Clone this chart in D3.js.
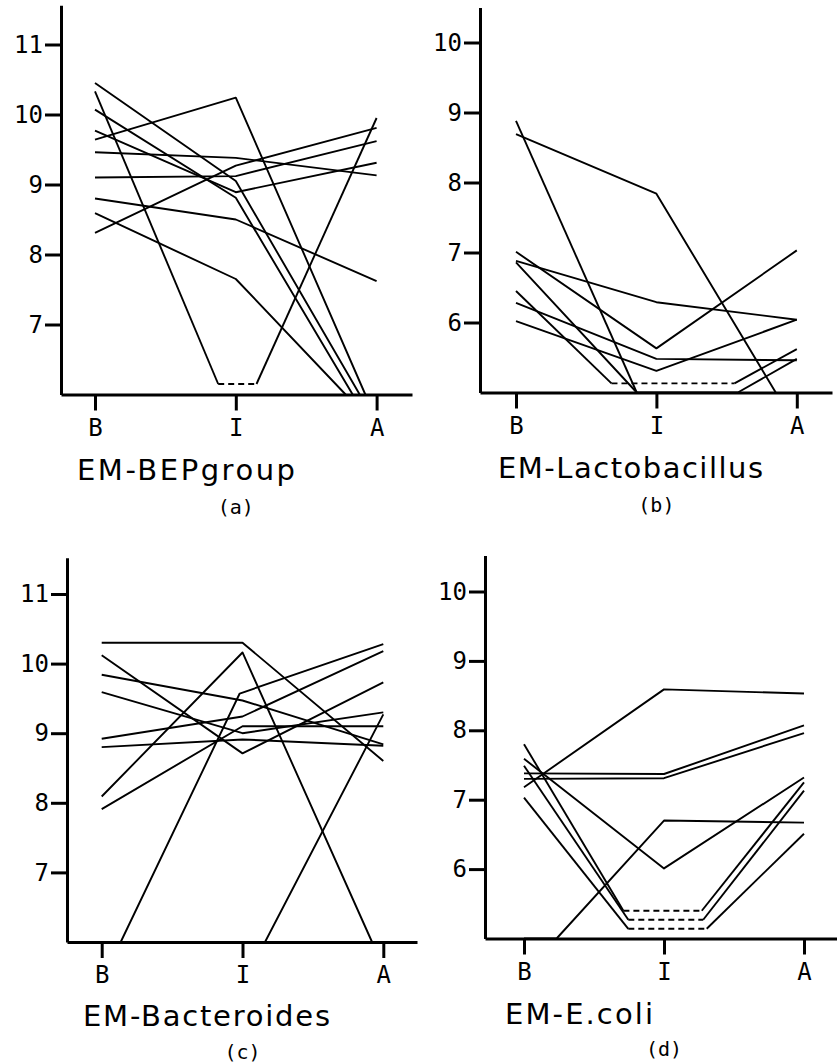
<!DOCTYPE html>
<html>
<head>
<meta charset="utf-8">
<script src="https://cdn.jsdelivr.net/npm/d3@7"></script>
<style>
  body { margin: 0; background: #fff; }
  svg { display: block; background: #fff; }
  .axis path, .axis line { stroke: #000; stroke-width: 3; }
  .axis text { font-family: 'DejaVu Sans Mono', monospace; font-size: 24px; fill: #000; }
  .title { font-family: 'DejaVu Sans', sans-serif; font-size: 29px; fill: #000; }
  .tag { font-family: 'DejaVu Sans Mono', monospace; font-size: 20px; fill: #000; }
</style>
</head>
<body>
<svg id="chart"></svg>
<script>
// stages on the x axis
const stages = ['B', 'I', 'A']
const titles = ['EM-BEPgroup', 'EM-Lactobacillus', 'EM-Bacteroides', 'EM-E.coli']
const tags = ['(a)', '(b)', '(c)', '(d)']

const ticksA = [7, 8, 9, 10, 11]
const ticksB = [6, 7, 8, 9, 10]
const ticksC = [7, 8, 9, 10, 11]
const ticksD = [6, 7, 8, 9, 10]

// each line: [stage, value] knots; a third 'd' marks a dashed segment (below detection)
const seriesA = [
    [[0, 10.45], [1, 9.05], [1.88, 6.0]],
    [[0, 10.33], [0.875, 6.15], [1.147, 6.15, 'd'], [2, 9.95]],
    [[0, 10.07], [1, 8.81], [1.83, 6.0]],
    [[0, 9.77], [1, 8.89], [2, 9.31]],
    [[0, 9.64], [1, 10.24], [1.92, 6.0]],
    [[0, 9.46], [1, 9.38], [2, 9.13]],
    [[0, 9.10], [1, 9.12], [2, 9.62]],
    [[0, 8.80], [1, 8.50], [2, 7.62]],
    [[0, 8.59], [1, 7.65], [1.78, 6.0]],
    [[0, 8.31], [1, 9.27], [2, 9.81]]
]

const seriesB = [
    [[0, 8.88], [0.86, 5.0]],
    [[0, 8.69], [1, 7.84], [1.85, 5.0]],
    [[0, 7.01], [1, 5.63], [2, 7.03]],
    [[0, 6.88], [1, 6.29], [2, 6.04]],
    [[0, 6.86], [0.86, 5.0], [1.58, 5.0], [2, 5.48]],
    [[0, 6.45], [0.68, 5.13], [1.556, 5.13, 'd'], [2, 5.62]],
    [[0, 6.28], [1, 5.48], [2, 5.46]],
    [[0, 6.02], [1, 5.31], [2, 6.04]]
]

const seriesC = [
    [[0, 10.30], [1, 10.30], [2, 8.60]],
    [[0, 10.12], [1, 8.71], [2, 9.73]],
    [[0, 9.84], [1, 9.47], [2, 8.84]],
    [[0, 9.59], [1, 9.00], [2, 9.30]],
    [[0, 8.92], [1, 9.24], [2, 10.18]],
    [[0, 8.80], [1, 8.91], [2, 8.82]],
    [[0, 8.09], [1, 10.16], [1.92, 6.0]],
    [[0, 7.91], [1, 9.10], [2, 9.10]],
    [[0, 6.0], [0.135, 6.0], [0.98, 9.57], [2, 10.28]],
    [[0, 6.0], [1.16, 6.0], [2, 9.27]]
]

const seriesD = [
    [[0, 7.18], [1, 8.59], [2, 8.53]],
    [[0, 7.38], [1, 7.37], [2, 8.07]],
    [[0, 7.30], [1, 7.31], [2, 7.96]],
    [[0, 7.59], [1, 6.01], [2, 7.32]],
    [[0, 5.0], [0.233, 5.0], [1, 6.70], [2, 6.67]],
    [[0, 7.80], [0.71, 5.40], [1.27, 5.40, 'd'], [2, 7.25]],
    [[0, 7.49], [0.745, 5.27], [1.28, 5.27, 'd'], [2, 7.13]],
    [[0, 7.03], [0.745, 5.14], [1.305, 5.14, 'd'], [2, 6.51]]
]

const W = 837, H = 1064

// panel layout (pixels)
let panels = [
    {series: seriesA, ticks: ticksA, yMin: 6, yTop: 11.56, base: 394.5, ppu: 70, axisX: 61, xB: 95, dx: 140.8, right: 412, titleX: 77, titleW: 218, titleY: 480, tagY: 514},
    {series: seriesB, ticks: ticksB, yMin: 5, yTop: 10.5, base: 392.5, ppu: 70, axisX: 480, xB: 516, dx: 140.4, right: 832, titleX: 498, titleW: 265, titleY: 478, tagY: 512},
    {series: seriesC, ticks: ticksC, yMin: 6, yTop: 11.52, base: 942, ppu: 69.6, axisX: 67, xB: 101.7, dx: 140.8, right: 417, titleX: 83, titleW: 247, titleY: 1026, tagY: 1059},
    {series: seriesD, ticks: ticksD, yMin: 5, yTop: 10.52, base: 938.5, ppu: 69.4, axisX: 485, xB: 524, dx: 140, right: 837, titleX: 505, titleW: 148, titleY: 1024, tagY: 1056}
]

let svg = d3.select('#chart')
    .attr('width', W)
    .attr('height', H)
    .attr('viewBox', `0 0 ${W} ${H}`)

panels.forEach((p, k) => {
    let g = svg.append('g').attr('class', 'panel')

    let x = d3.scaleLinear()
        .domain([(p.axisX - p.xB) / p.dx, (p.right - p.xB) / p.dx])
        .range([p.axisX, p.right])
    let y = d3.scaleLinear()
        .domain([p.yMin, p.yTop])
        .range([p.base, p.base - (p.yTop - p.yMin) * p.ppu])

    let line = d3.line().x(d => x(d[0])).y(d => y(d[1]))

    // split each series into solid / dashed runs
    let runs = []
    p.series.forEach(s => {
        for (let i = 1; i < s.length; i++) {
            let dash = s[i][2] === 'd'
            let last = runs[runs.length - 1]
            if (i > 1 && last && last.dash === dash && last.src === s) last.pts.push(s[i])
            else runs.push({src: s, dash: dash, pts: [s[i - 1], s[i]]})
        }
    })

    g.append('g').selectAll('path')
        .data(runs)
        .enter().append('path')
        .attr('d', d => line(d.pts))
        .attr('fill', 'none')
        .attr('stroke', '#000')
        .attr('stroke-width', 1.9)
        .attr('stroke-linejoin', 'round')
        .attr('stroke-dasharray', d => d.dash ? '6,4' : null)

    g.append('g')
        .attr('class', 'axis')
        .attr('transform', `translate(${p.axisX}, 0)`)
        .call(d3.axisLeft(y).tickValues(p.ticks).tickSize(16).tickSizeOuter(0).tickPadding(2).tickFormat(d3.format('d')))

    g.append('g')
        .attr('class', 'axis')
        .attr('transform', `translate(0, ${p.base})`)
        .call(d3.axisBottom(x).tickValues([0, 1, 2]).tickSize(16).tickSizeOuter(0).tickPadding(8).tickFormat(i => stages[i]))

    g.append('text')
        .attr('class', 'title')
        .attr('x', p.titleX)
        .attr('y', p.titleY)
        .attr('textLength', p.titleW)
        .attr('lengthAdjust', 'spacing')
        .text(titles[k])

    g.append('text')
        .attr('class', 'tag')
        .attr('x', x(1))
        .attr('y', p.tagY)
        .attr('text-anchor', 'middle')
        .text(tags[k])
})
</script>
</body>
</html>
